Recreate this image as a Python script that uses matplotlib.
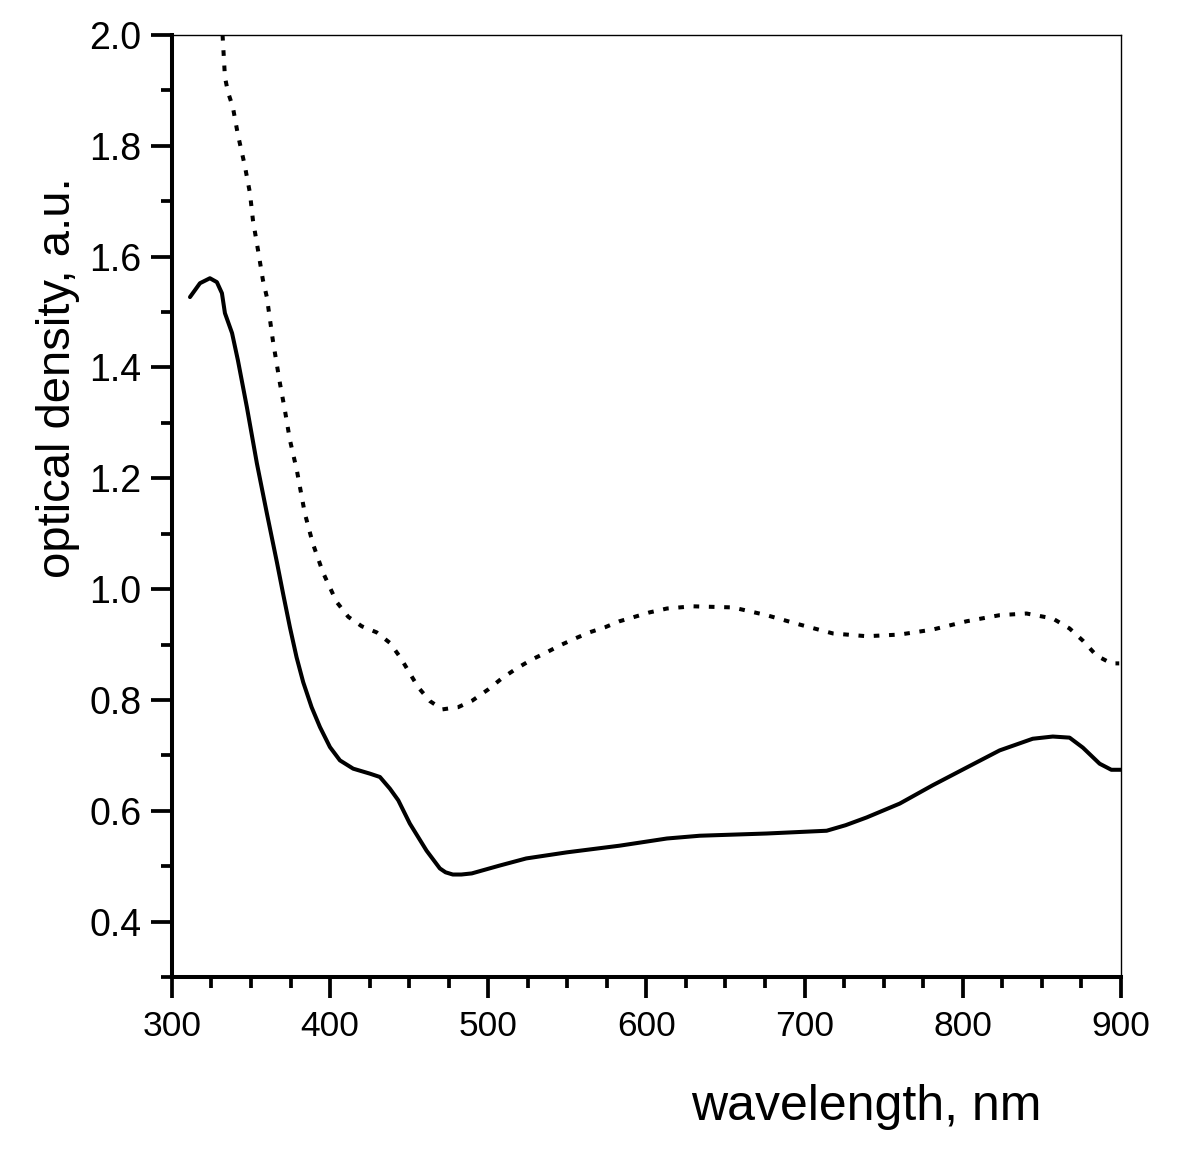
import matplotlib
matplotlib.use("Agg")
import matplotlib.pyplot as plt
from matplotlib.ticker import MultipleLocator, FormatStrFormatter

plt.rcParams['font.family'] = ['Liberation Sans', 'DejaVu Sans']

# solid curve
wl_solid = [311.4, 317.7, 324.0, 328.4, 331.6, 333.5, 338.0, 341.7, 347.4, 353.7, 360.0,
            366.4, 370.4, 374.6, 378.8, 383.0, 388.3, 393.6, 399.9, 406.2, 414.6, 425.2,
            431.5, 437.8, 443.1, 450.4, 461.0, 469.4, 473.0, 477.6, 483.0, 489.6, 507.0,
            524.0, 549.7, 583.0, 613.0, 633.8, 676.0, 714.0, 726.0, 739.3, 760.2, 781.0,
            802.5, 823.4, 844.3, 857.0, 867.6, 876.0, 886.6, 894.0, 900.0]
od_solid = [1.527, 1.552, 1.561, 1.554, 1.534, 1.498, 1.462, 1.413, 1.328, 1.227, 1.137,
            1.048, 0.990, 0.931, 0.877, 0.832, 0.787, 0.751, 0.715, 0.691, 0.676, 0.667,
            0.661, 0.640, 0.619, 0.577, 0.528, 0.496, 0.489, 0.485, 0.485, 0.487, 0.501,
            0.514, 0.525, 0.537, 0.550, 0.555, 0.559, 0.564, 0.574, 0.588, 0.613, 0.646,
            0.678, 0.709, 0.730, 0.734, 0.732, 0.714, 0.685, 0.674, 0.674]

# dotted curve
wl_dot = [332.0, 333.5, 335.4, 338.5, 341.7, 346.0, 349.3, 351.2, 354.4, 357.5, 360.0,
          363.8, 368.3, 371.4, 374.6, 379.0, 384.0, 389.0, 395.5, 404.1, 411.5, 420.0,
          429.4, 437.8, 444.6, 450.0, 455.7, 463.1, 471.0, 481.0, 490.0, 500.0, 508.6,
          518.0, 527.6, 537.0, 545.0, 555.0, 564.0, 573.7, 583.0, 591.4, 602.0, 613.0,
          629.0, 654.6, 676.0, 697.0, 718.0, 739.4, 760.2, 781.0, 802.5, 823.4, 840.4,
          857.0, 867.6, 876.0, 884.7, 894.0, 899.0]
od_dot = [2.000, 1.924, 1.897, 1.870, 1.820, 1.765, 1.715, 1.666, 1.612, 1.558, 1.527,
          1.449, 1.371, 1.323, 1.269, 1.214, 1.137, 1.083, 1.030, 0.977, 0.950, 0.933,
          0.922, 0.903, 0.876, 0.850, 0.823, 0.798, 0.783, 0.787, 0.799, 0.819, 0.839,
          0.857, 0.873, 0.886, 0.898, 0.911, 0.922, 0.931, 0.942, 0.949, 0.958, 0.965,
          0.969, 0.967, 0.953, 0.936, 0.920, 0.915, 0.918, 0.927, 0.942, 0.953, 0.956,
          0.947, 0.929, 0.907, 0.880, 0.866, 0.866]

fig = plt.figure(figsize=(12, 11.5), dpi=100)
ax = fig.add_axes([0.1433, 0.1504, 0.7907, 0.8192])

ax.plot(wl_solid, od_solid, color='black', lw=2.9, solid_joinstyle='round',
        solid_capstyle='round')
ax.plot(wl_dot, od_dot, color='black', lw=2.9, linestyle=(0, (1.4, 2.4)),
        dash_capstyle='butt')

ax.set_xlim(300, 900)
ax.set_ylim(0.3, 2.0)
ax.xaxis.set_major_locator(MultipleLocator(100))
ax.xaxis.set_minor_locator(MultipleLocator(25))
ax.yaxis.set_major_locator(MultipleLocator(0.2))
ax.yaxis.set_minor_locator(MultipleLocator(0.1))
ax.yaxis.set_major_formatter(FormatStrFormatter('%.1f'))

for s in ['left', 'bottom']:
    ax.spines[s].set_linewidth(2.9)
for s in ['top', 'right']:
    ax.spines[s].set_linewidth(1.0)

ax.tick_params(which='major', direction='out', length=15, width=2.7,
               top=False, right=False)
ax.tick_params(which='minor', direction='out', length=8, width=2.7, top=False, right=False)
ax.tick_params(axis='x', which='major', pad=9, labelsize=25.5)
ax.tick_params(axis='y', which='major', pad=7, labelsize=27)

fig.text(866 / 1200, 1 - 1120 / 1150, 'wavelength, nm', fontsize=36, ha='center',
         va='baseline')
fig.text(58 / 1200, 1 - 378 / 1150, 'optical density, a.u.', fontsize=34, rotation=90,
         ha='center', va='center')

fig.savefig('out.png', dpi=100, facecolor='white')
